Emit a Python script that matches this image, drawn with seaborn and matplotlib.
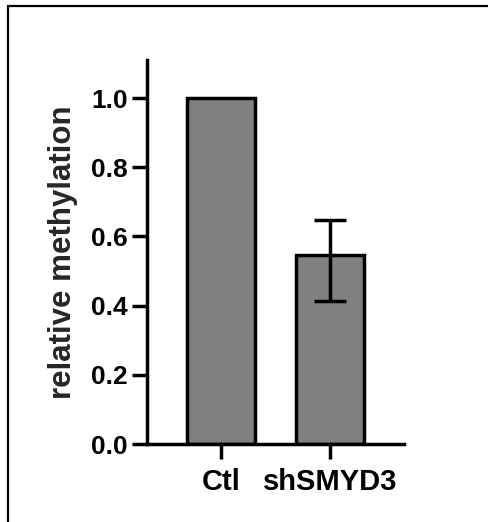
import matplotlib
matplotlib.use("Agg")
import matplotlib.pyplot as plt
from matplotlib.lines import Line2D
import seaborn as sns
import pandas as pd

# Relative methylation, control vs SMYD3 knockdown
groups = ["Ctl", "shSMYD3"]
means = [1.0, 0.545]
err_low = [0.0, 0.412]
err_high = [0.0, 0.648]
y_ticks = [0.0, 0.2, 0.4, 0.6, 0.8, 1.0]

sns.set_style("ticks")
plt.rcParams["font.family"] = ["Liberation Sans", "DejaVu Sans"]
plt.rcParams["font.weight"] = "bold"

W, H = 488, 522
LW = 2.5
fig = plt.figure(figsize=(W / 100, H / 100), dpi=100)
ax = fig.add_axes([147 / W, 1 - 444 / H, (404 - 147) / W, (444 - 60) / H])

df = pd.DataFrame({"group": groups, "value": means})
sns.barplot(data=df, x="group", y="value", order=groups, color="#808080",
            width=0.62, edgecolor="black", linewidth=LW, saturation=1,
            errorbar=None, ax=ax)

# error bars (only where a spread is given)
for i, (m, lo, hi) in enumerate(zip(means, err_low, err_high)):
    if hi > 0:
        ax.errorbar(i, m, yerr=[[m - lo], [hi - m]], fmt="none", ecolor="black",
                    elinewidth=LW, capsize=11.5, capthick=LW, zorder=5)

ax.set_xlim(-0.68, 1.68)
ax.set_ylim(0, 1.11)
ax.set_yticks(y_ticks)
ax.set_yticklabels([f"{t:.1f}" for t in y_ticks], fontsize=19, fontweight="bold")
ax.set_xticks(range(len(groups)))
ax.set_xticklabels(groups, fontsize=21, fontweight="bold")
ax.set_xlabel("")
ax.set_ylabel("relative methylation", fontsize=22.5, fontweight="bold", labelpad=9)

for side in ["top", "right"]:
    ax.spines[side].set_visible(False)
for side in ["left", "bottom"]:
    ax.spines[side].set_linewidth(LW)
    ax.spines[side].set_color("black")
ax.tick_params(axis="both", direction="out", length=11, width=LW, colors="black")
ax.tick_params(axis="y", pad=3)
ax.tick_params(axis="x", pad=6)

# panel frame on the left and top edges
fig.add_artist(Line2D([8 / W, 8 / W], [0, 1 - 6 / H], transform=fig.transFigure,
                      color="black", linewidth=1.6))
fig.add_artist(Line2D([8 / W, 1], [1 - 6 / H, 1 - 6 / H], transform=fig.transFigure,
                      color="black", linewidth=1.6))

fig.savefig("out.png", dpi=100)
